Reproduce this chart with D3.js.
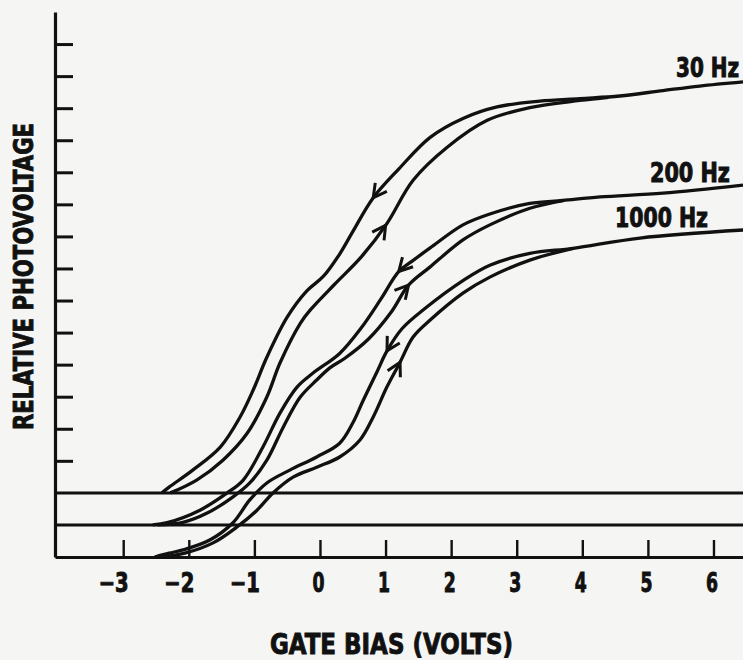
<!DOCTYPE html>
<html>
<head>
<meta charset="utf-8">
<script src="https://cdn.jsdelivr.net/npm/d3@7"></script>
<style>
body { margin: 0; background: #f5f5f3; }
svg { display: block; }
text { font-family: "DejaVu Sans Condensed", "DejaVu Sans", sans-serif; font-weight: bold; fill: #111; stroke: #111; stroke-width: 0.9px; }
</style>
</head>
<body>
<svg id="chart" width="743" height="660"></svg>
<script>
// gate bias in volts, photovoltage in y-tick units (axis = 0)
var xTicks = [-3, -2, -1, 0, 1, 2, 3, 4, 5, 6];
var yTicks = [3, 4, 5, 6, 7, 8, 9, 10, 11, 12, 13, 14, 15, 16];
var baselines = [2, 1];   // zero lines of 30 Hz and 200 Hz, 1000 Hz sits on the axis
var seriesNames = ["30 Hz", "200 Hz", "1000 Hz"];

// decreasing-bias branch (left one, runs on to the right edge)
var f30Down = [[-2.41,2.00],[-2.30,2.18],[-1.94,2.71],[-1.52,3.43],[-1.22,4.36],[-1.02,5.20],[-0.81,6.23],
  [-0.50,7.48],[-0.20,8.30],[0.05,8.75],[0.30,9.45],[0.50,10.15],[0.81,11.20],[1.20,12.10],[1.68,13.09],
  [2.18,13.68],[2.70,14.04],[3.35,14.22],[3.96,14.30],[4.57,14.38],[5.23,14.55],[5.79,14.69],[6.45,14.82]];
// increasing-bias branch
var f30Up = [[-2.28,2.00],[-1.88,2.40],[-1.48,3.02],[-1.11,3.86],[-0.81,4.99],[-0.61,6.05],[-0.30,7.29],
  [-0.15,7.70],[0.22,8.50],[0.63,9.36],[1.02,10.40],[1.42,11.75],[1.94,12.78],[2.55,13.62],[3.20,14.02],
  [3.96,14.24],[4.40,14.34]];

var f200Down = [[-2.55,1.00],[-2.33,1.07],[-1.83,1.46],[-1.42,1.99],[-1.17,2.40],[-0.87,3.43],[-0.61,4.49],
  [-0.35,5.30],[-0.11,5.73],[0.30,6.35],[0.63,7.15],[0.93,8.05],[1.20,8.90],[1.40,9.22],[1.68,9.64],
  [2.18,10.36],[2.59,10.70],[3.20,11.03],[3.70,11.12],[4.27,11.23],[5.23,11.35],[6.45,11.60]];
var f200Up = [[-2.48,1.00],[-2.09,1.08],[-1.72,1.37],[-1.33,1.87],[-1.07,2.31],[-0.81,3.02],[-0.56,4.05],
  [-0.30,4.99],[-0.05,5.52],[0.15,5.90],[0.38,6.20],[0.74,6.80],[1.09,7.65],[1.35,8.48],[1.68,9.05],
  [2.18,9.89],[2.59,10.36],[3.20,10.88],[3.70,11.12]];

var f1000Down = [[-2.52,0.00],[-2.30,0.12],[-2.09,0.22],[-1.68,0.53],[-1.33,1.06],[-1.07,1.78],[-0.81,2.31],
  [-0.46,2.71],[-0.05,3.12],[0.30,3.55],[0.50,4.18],[0.66,4.89],[0.87,5.78],[1.02,6.42],[1.25,7.12],
  [1.60,7.75],[2.18,8.62],[2.59,9.10],[3.20,9.47],[3.86,9.63],[4.88,9.95],[6.45,10.20]];
var f1000Up = [[-2.42,0.00],[-2.06,0.12],[-1.63,0.44],[-1.27,0.93],[-0.96,1.46],[-0.72,1.99],[-0.41,2.49],
  [-0.05,2.80],[0.30,3.12],[0.61,3.65],[0.81,4.36],[1.02,5.30],[1.22,6.07],[1.42,6.86],[1.68,7.39],
  [2.18,8.23],[2.59,8.73],[3.20,9.26],[3.86,9.63]];

// bias where the direction arrows sit: [down, up]
var arrows30 = [0.81, 1.00];
var arrows200 = [1.20, 1.35];
var arrows1000 = [1.02, 1.22];

var svg = d3.select("#chart");
var x = d3.scaleLinear().domain([-4.04, 6.45]).range([55, 743]);
var y = d3.scaleLinear().domain([0, 17]).range([557, 12]);

var line = d3.line()
  .x(d => x(d[0]))
  .y(d => y(d[1]))
  .curve(d3.curveCatmullRom.alpha(0.5));

// zero lines
svg.selectAll(".base")
  .data(baselines)
  .enter().append("line")
  .attr("class", "base")
  .attr("x1", x.range()[0]).attr("x2", x.range()[1])
  .attr("y1", d => y(d)).attr("y2", d => y(d))
  .attr("stroke", "#111").attr("stroke-width", 3);

// axes
var xAxis = d3.axisBottom(x).tickValues(xTicks).tickSizeInner(-17).tickSizeOuter(0)
  .tickFormat(d => d < 0 ? "\u2212" + Math.abs(d) : d);
var gx = svg.append("g").attr("transform", "translate(0," + y(0) + ")").call(xAxis);
gx.attr("font-family", null).attr("font-size", null);
gx.select(".domain").attr("stroke", "#111").attr("stroke-width", 3.2);
gx.selectAll(".tick line").attr("stroke", "#111").attr("stroke-width", 2.4);
// digit sits under the tick, the minus hangs to its left
gx.selectAll(".tick text")
  .attr("y", 35).attr("dy", null)
  .attr("x", d => d < 0 ? -10 : -2)
  .attr("font-size", 26)
  .attr("textLength", d => d < 0 ? 30 : 12)
  .attr("lengthAdjust", "spacingAndGlyphs");

var yAxis = d3.axisLeft(y).tickValues(yTicks).tickSizeInner(-18).tickSizeOuter(0).tickFormat("");
var gy = svg.append("g").attr("transform", "translate(" + x.range()[0] + ",0)").call(yAxis);
gy.select(".domain").attr("stroke", "#111").attr("stroke-width", 3.2);
gy.selectAll(".tick line").attr("stroke", "#111").attr("stroke-width", 3);

// curves
var branches = [
  {pts: f30Down, at: arrows30[0], dir: -1},
  {pts: f30Up, at: arrows30[1], dir: 1},
  {pts: f200Down, at: arrows200[0], dir: -1},
  {pts: f200Up, at: arrows200[1], dir: 1},
  {pts: f1000Down, at: arrows1000[0], dir: -1},
  {pts: f1000Up, at: arrows1000[1], dir: 1}
];

var curves = svg.append("g");
branches.forEach(b => {
  var p = curves.append("path")
    .attr("d", line(b.pts))
    .attr("fill", "none")
    .attr("stroke", "#111")
    .attr("stroke-width", 3.3)
    .attr("stroke-linejoin", "round");
  drawArrow(p.node(), x(b.at), b.dir);
});

function drawArrow(node, px, dir) {
  var L = node.getTotalLength();
  var s = 0;
  while (s < L && node.getPointAtLength(s).x < px) s += 0.5;
  var tip = node.getPointAtLength(s);
  var a = node.getPointAtLength(Math.max(0, s - 3));
  var b = node.getPointAtLength(Math.min(L, s + 3));
  var ang = Math.atan2(b.y - a.y, b.x - a.x);
  if (dir < 0) ang += Math.PI;
  var back = ang + Math.PI, len = 15, spread = 0.5;
  var p1 = [tip.x + len * Math.cos(back - spread), tip.y + len * Math.sin(back - spread)];
  var p2 = [tip.x + len * Math.cos(back + spread), tip.y + len * Math.sin(back + spread)];
  curves.append("path")
    .attr("d", "M" + p1 + "L" + [tip.x, tip.y] + "L" + p2)
    .attr("fill", "none")
    .attr("stroke", "#111")
    .attr("stroke-width", 3)
    .attr("stroke-linejoin", "miter");
}

// curve labels, squeezed horizontally to the narrow lettering
var labelPos = [{x: 676, y: 77, w: 63}, {x: 650, y: 182, w: 80}, {x: 615, y: 227, w: 93}];
svg.selectAll(".lab")
  .data(seriesNames)
  .enter().append("text")
  .attr("class", "lab")
  .attr("font-size", 26)
  .text(d => d)
  .each(function (d, i) {
    var k = labelPos[i].w / this.getComputedTextLength();
    d3.select(this).attr("transform",
      "translate(" + labelPos[i].x + "," + labelPos[i].y + ") scale(" + k + ",1)");
  });

// axis titles
svg.append("text")
  .attr("x", 270).attr("y", 654)
  .attr("font-size", 29)
  .attr("textLength", 243).attr("lengthAdjust", "spacingAndGlyphs")
  .text("GATE BIAS (VOLTS)");

svg.append("text")
  .attr("transform", "translate(33,430) rotate(-90)")
  .attr("font-size", 27)
  .attr("textLength", 307).attr("lengthAdjust", "spacingAndGlyphs")
  .text("RELATIVE PHOTOVOLTAGE");
</script>
</body>
</html>
